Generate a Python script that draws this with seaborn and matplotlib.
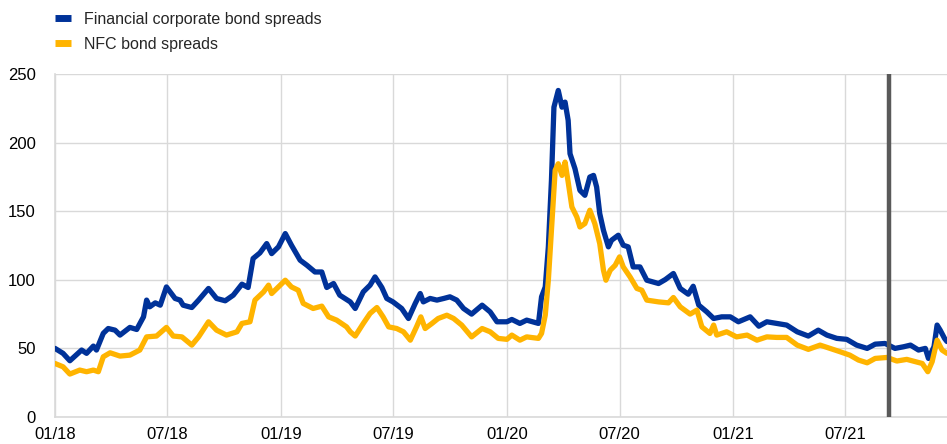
import numpy as np
import pandas as pd
import matplotlib
matplotlib.use('Agg')
import matplotlib.pyplot as plt
from matplotlib.lines import Line2D
import seaborn as sns

# ── Data (basis points) ──────────────────────────────────────────────────────
fin_dates = [
    "2018-01-01", "2018-01-14", "2018-01-25", "2018-02-13", "2018-02-21", "2018-03-04",
    "2018-03-09", "2018-03-20", "2018-03-28", "2018-04-08", "2018-04-16", "2018-05-02",
    "2018-05-13", "2018-05-24", "2018-05-29", "2018-06-03", "2018-06-12", "2018-06-20",
    "2018-06-30", "2018-07-14", "2018-07-22", "2018-07-27", "2018-08-10", "2018-08-21",
    "2018-09-06", "2018-09-19", "2018-10-03", "2018-10-16", "2018-10-30", "2018-11-09",
    "2018-11-17", "2018-11-28", "2018-12-09", "2018-12-17", "2018-12-28",
    "2019-01-08", "2019-01-18", "2019-02-01", "2019-02-12", "2019-02-25", "2019-03-08",
    "2019-03-16", "2019-03-27", "2019-04-06", "2019-04-23", "2019-05-01", "2019-05-14",
    "2019-05-25", "2019-06-02", "2019-06-13", "2019-06-21", "2019-07-01", "2019-07-15",
    "2019-07-26", "2019-08-06", "2019-08-14", "2019-08-19", "2019-08-30", "2019-09-10",
    "2019-09-21", "2019-10-01", "2019-10-12", "2019-10-23", "2019-11-05", "2019-11-22",
    "2019-12-05", "2019-12-16",
    "2020-01-01", "2020-01-09", "2020-01-22", "2020-02-02", "2020-02-21", "2020-02-26",
    "2020-03-03", "2020-03-08", "2020-03-13", "2020-03-17", "2020-03-24", "2020-03-30",
    "2020-04-04", "2020-04-09", "2020-04-12", "2020-04-20", "2020-04-28", "2020-05-06",
    "2020-05-14", "2020-05-20", "2020-05-25", "2020-05-30", "2020-06-05", "2020-06-13",
    "2020-06-18", "2020-06-29", "2020-07-07", "2020-07-15", "2020-07-23", "2020-08-03",
    "2020-08-14", "2020-09-02", "2020-09-13", "2020-09-26", "2020-10-07", "2020-10-20",
    "2020-10-28", "2020-11-06", "2020-11-19", "2020-11-30", "2020-12-13", "2020-12-27",
    "2021-01-09", "2021-01-28", "2021-02-11", "2021-02-24", "2021-03-12", "2021-03-28",
    "2021-04-14", "2021-05-02", "2021-05-18", "2021-06-01", "2021-06-17", "2021-07-03",
    "2021-07-19", "2021-08-05", "2021-08-18", "2021-09-03", "2021-09-19", "2021-10-03",
    "2021-10-14", "2021-10-27", "2021-11-07", "2021-11-12", "2021-11-21", "2021-11-26",
    "2021-12-01", "2021-12-08", "2021-12-12",
]
fin_values = [
    50, 46.4, 41, 48.8, 46.4, 51.7,
    48.8, 61, 64.5, 63.3, 59.7, 65.3,
    63.8, 73, 85.2, 80.3, 83.2, 81.5,
    94.8, 86.4, 85.2, 81.5, 79.8, 85.2,
    93.7, 86.4, 84.7, 88.8, 96.8, 94.4,
    115.5, 119.6, 126.4, 119.1, 124,
    133.7, 125.2, 114.3, 110.6, 105.7, 105.7,
    94.4, 97.3, 88.8, 83.9, 79.1, 91.2,
    96.1, 102.1, 94.4, 86.4, 83.9, 79.1,
    71.8, 82.8, 90, 83.9, 86.4, 85.2,
    86.4, 87.6, 85.2, 79.1, 75, 81.5,
    76.6, 69.4,
    69.4, 71.1, 68.2, 70.6, 68.2, 87.6,
    94.8, 124, 172.5, 225.8, 238, 225.8,
    229.5, 216.2, 191.9, 181, 165.2, 161.6,
    174.9, 176.1, 167.6, 148.3, 136.1, 124,
    128.8, 132.5, 125.2, 124, 109.4, 109.4,
    99.7, 97.3, 100.2, 104.6, 93.7, 89.5,
    95.3, 81.5, 76.6, 71.8, 73, 73,
    69.4, 73, 66.2, 69.4, 68.2, 67,
    62.1, 59, 63.3, 59.7, 57.3, 56.6,
    52.4, 50, 53.1, 53.6, 50, 51.2,
    52.4, 48.8, 50, 42.7, 51.2, 67,
    63.3, 57.3, 55,
]

nfc_dates = [
    "2018-01-01", "2018-01-14", "2018-01-25", "2018-02-10", "2018-02-21", "2018-03-04",
    "2018-03-12", "2018-03-20", "2018-03-31", "2018-04-16", "2018-05-02", "2018-05-18",
    "2018-05-29", "2018-06-14", "2018-06-30", "2018-07-11", "2018-07-25", "2018-08-10",
    "2018-08-21", "2018-09-06", "2018-09-19", "2018-10-05", "2018-10-22", "2018-10-30",
    "2018-11-12", "2018-11-20", "2018-12-04", "2018-12-12", "2018-12-17", "2018-12-28",
    "2019-01-08", "2019-01-18", "2019-01-29", "2019-02-06", "2019-02-22", "2019-03-08",
    "2019-03-19", "2019-04-01", "2019-04-17", "2019-04-23", "2019-05-01", "2019-05-14",
    "2019-05-25", "2019-06-05", "2019-06-15", "2019-06-24", "2019-07-07", "2019-07-18",
    "2019-07-29", "2019-08-08", "2019-08-15", "2019-08-22", "2019-09-02", "2019-09-12",
    "2019-09-26", "2019-10-07", "2019-10-20", "2019-11-05", "2019-11-22", "2019-12-05",
    "2019-12-18",
    "2020-01-01", "2020-01-09", "2020-01-22", "2020-02-02", "2020-02-21", "2020-02-26",
    "2020-03-03", "2020-03-08", "2020-03-13", "2020-03-19", "2020-03-24", "2020-03-30",
    "2020-04-04", "2020-04-09", "2020-04-15", "2020-04-23", "2020-04-28", "2020-05-06",
    "2020-05-14", "2020-05-22", "2020-05-30", "2020-06-05", "2020-06-09", "2020-06-16",
    "2020-06-24", "2020-07-01", "2020-07-07", "2020-07-18", "2020-07-29", "2020-08-06",
    "2020-08-14", "2020-09-02", "2020-09-18", "2020-09-26", "2020-10-07", "2020-10-23",
    "2020-11-03", "2020-11-11", "2020-11-24", "2020-11-30", "2020-12-05", "2020-12-21",
    "2021-01-06", "2021-01-23", "2021-02-08", "2021-02-24", "2021-03-12", "2021-03-28",
    "2021-04-14", "2021-05-02", "2021-05-21", "2021-06-06", "2021-06-22", "2021-07-08",
    "2021-07-22", "2021-08-05", "2021-08-18", "2021-09-06", "2021-09-22", "2021-10-08",
    "2021-10-22", "2021-11-02", "2021-11-11", "2021-11-18", "2021-11-26", "2021-12-04",
    "2021-12-12",
]
nfc_values = [
    39, 36.6, 31.3, 34.2, 33, 34.2,
    33, 43.9, 46.8, 44.4, 45.1, 48.8,
    58.4, 59, 65.3, 59, 58.4, 52.4,
    58.4, 69.4, 63.3, 59.7, 62.1, 68.2,
    69.4, 85.2, 91.2, 96.1, 90, 94.8,
    99.7, 94.8, 92.4, 82.8, 79.1, 80.8,
    73, 70.6, 65.7, 62.1, 59, 68.2,
    75.5, 79.8, 73, 65.7, 64.5, 62.1,
    56, 65.7, 73, 64.5, 68.2, 71.8,
    74.2, 71.8, 67, 58.4, 64.5, 62.1,
    57.3,
    56.6, 59.7, 56, 58.4, 57.3, 60.9,
    74.2, 99.7, 136.1, 179.8, 184.6, 176.1,
    185.8, 171.3, 153.1, 145.8, 138.5, 141,
    150.7, 141, 126.4, 107, 99.7, 107,
    110.6, 116.7, 109.4, 102.1, 93.7, 92.4,
    85.2, 83.9, 83.2, 87.1, 80.3, 75,
    77.9, 65.7, 60.9, 67, 59.7, 62.1,
    58.4, 59.7, 56, 58.4, 58, 58,
    52.4, 49.3, 52.4, 50, 47.6, 45.1,
    41.5, 39.5, 42.7, 43.4, 40.8, 42,
    40.3, 39, 33, 40.3, 56, 48.8,
    46.4,
]

series_names = ["Financial corporate bond spreads", "NFC bond spreads"]
series_colors = ["#003299", "#FFB400"]
tick_dates = ["2018-01-01", "2018-07-01", "2019-01-01", "2019-07-01",
              "2020-01-01", "2020-07-01", "2021-01-01", "2021-07-01"]
tick_labels = ["01/18", "07/18", "01/19", "07/19", "01/20", "07/20", "01/21", "07/21"]
marker_date = "2021-09-09"

df = pd.concat([
    pd.DataFrame({'date': pd.to_datetime(fin_dates), 'value': fin_values,
                  'series': series_names[0]}),
    pd.DataFrame({'date': pd.to_datetime(nfc_dates), 'value': nfc_values,
                  'series': series_names[1]}),
])

# ── Plot ─────────────────────────────────────────────────────────────────────
sns.set_style("white")
plt.rcParams['font.family'] = ['Liberation Sans', 'DejaVu Sans']

fig = plt.figure(figsize=(9.47, 4.44), dpi=100)
ax = fig.add_axes([55 / 947, 1 - 417 / 444, 1 - 55 / 947, (417 - 74) / 444])

palette = dict(zip(series_names, series_colors))
sns.lineplot(data=df, x='date', y='value', hue='series', hue_order=series_names,
             palette=palette, estimator=None, sort=True, linewidth=3.8,
             legend=False, ax=ax, zorder=3)

ax.axvline(pd.Timestamp(marker_date), color='#595959', lw=3.2, zorder=4)

ax.set_ylim(0, 250)
ax.set_xlim(pd.Timestamp(fin_dates[0]), pd.Timestamp(fin_dates[-1]))
ax.set_yticks(range(0, 251, 50))
ax.set_xticks(pd.to_datetime(tick_dates))
ax.set_xticklabels(tick_labels)
ax.tick_params(axis='both', length=0, labelsize=12, colors='#000000')
ax.tick_params(axis='x', pad=7)
ax.tick_params(axis='y', pad=14)
ax.set_xlabel('')
ax.set_ylabel('')

ax.grid(True, color='#d9d9d9', lw=1.0, zorder=0)
for side in ['top', 'right']:
    ax.spines[side].set_visible(False)
for side in ['left', 'bottom']:
    ax.spines[side].set_color('#d9d9d9')
    ax.spines[side].set_linewidth(1.2)

handles = [Line2D([0], [0], color=c, lw=5, solid_capstyle='butt') for c in series_colors]
fig.legend(handles, series_names, loc='upper left', bbox_to_anchor=(44 / 947, 0.998),
           frameon=False, fontsize=11.5, handlelength=1.0, handletextpad=0.8,
           labelspacing=0.62, borderaxespad=0.3)

fig.savefig('out.png', dpi=100)
